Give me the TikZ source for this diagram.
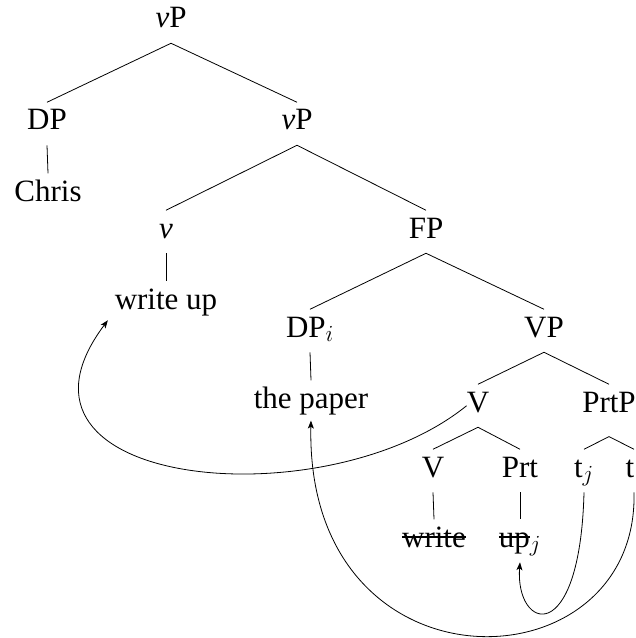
\documentclass[tikz,border=0pt]{standalone}
\usepackage{fontspec}
\setmainfont{Liberation Serif}
\usetikzlibrary{arrows.meta}
\newcommand{\strk}[1]{\setbox0=\hbox{#1}\rlap{\rule[6.4pt]{\wd0}{2.2pt}}\box0}
\tikzset{
  lbl/.style={inner sep=0pt, text height=20.6pt, text depth=11.25pt, anchor=base,
    font=\fontsize{23.25}{28}\selectfont},
  edge/.style={line width=0.6pt},
  mov/.style={line width=0.6pt, -{Stealth[length=6pt,width=4.5pt,inset=1.5pt]}},
}
\begin{document}
\begin{tikzpicture}[x=0.75pt,y=-0.75pt]
\useasboundingbox (0,0) rectangle (635,638);
\clip (0,0) rectangle (635,638);
% nodes
\node[lbl] (vP0) at (171,28) {\textit{v}P};
\node[lbl] (DP) at (47,130) {DP};
\node[lbl] (Chris) at (48,201) {Chris};
\node[lbl] (vP1) at (297,130) {\textit{v}P};
\node[lbl] (v) at (166,238) {\textit{v}};
\node[lbl] (writeup) at (166,309) {write up};
\node[lbl] (FP) at (426,238) {FP};
\node[lbl] (DPi) at (310,337) {DP$_i$};
\node[lbl] (thepaper) at (311,408) {the paper};
\node[lbl] (VP) at (544,337) {VP};
\node[lbl] (V1) at (478,412) {V};
\node[lbl] (PrtP) at (609,412) {PrtP};
\node[lbl] (V2) at (433,477) {V};
\node[lbl] (Prt) at (520,477) {Prt};
\node[lbl] (tj) at (584,477) {t$_j$};
\node[lbl] (ti) at (630,477) {t};
\node[lbl] (write) at (434,547) {\strk{write}};
\node[lbl] (upj) at (520,547) {\strk{up}$_j$};
% tree edges
\draw[edge] (vP0.south) -- (DP.north);
\draw[edge] (vP0.south) -- (vP1.north);
\draw[edge] (DP.south) -- (Chris.north);
\draw[edge] (vP1.south) -- (v.north);
\draw[edge] (vP1.south) -- (FP.north);
\draw[edge] (v.south) -- (writeup.north);
\draw[edge] (FP.south) -- (DPi.north);
\draw[edge] (FP.south) -- (VP.north);
\draw[edge] (DPi.south) -- (thepaper.north);
\draw[edge] (VP.south) -- (V1.north);
\draw[edge] (VP.south) -- (PrtP.north);
\draw[edge] (V1.south) -- (V2.north);
\draw[edge] (V1.south) -- (Prt.north);
\draw[edge] ([yshift=-7pt]PrtP.south) -- (tj.north);
\draw[edge] ([yshift=-7pt]PrtP.south) -- ([xshift=3pt]ti.north);
\draw[edge] (V2.south) -- (write.north);
\draw[edge] (Prt.south) -- (upj.north);
% movement arrows
\draw[mov] (V1.west) .. controls +(-142,115) and +(-126,168) .. ([xshift=-5pt,yshift=3pt]writeup.south west);
\draw[mov] (tj.south) .. controls +(-4,158) and +(-5,68) .. (upj.south);
\draw[mov] ([xshift=3pt]ti.south) .. controls +(5,198) and +(-6,279) .. ([yshift=2pt]thepaper.south);
\end{tikzpicture}
\end{document}
